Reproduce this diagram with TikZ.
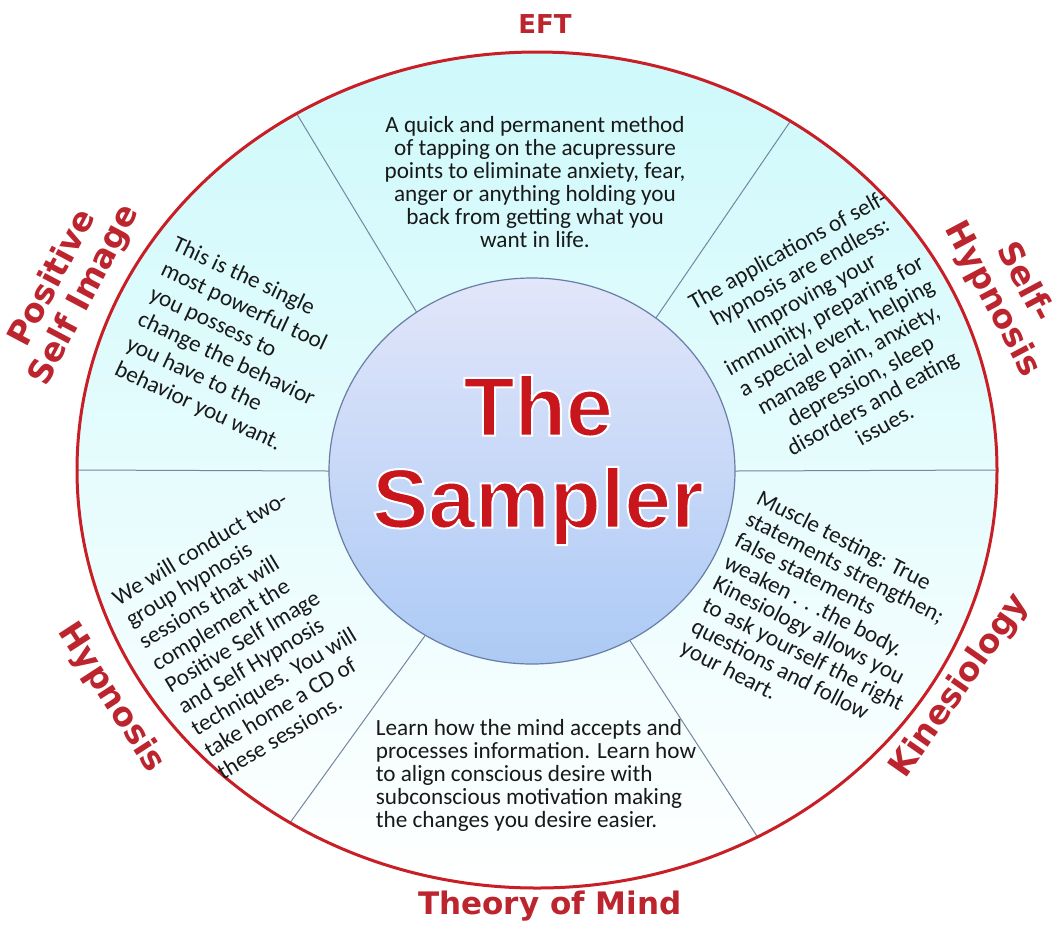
\documentclass[tikz,border=0pt]{standalone}
\usepackage{fontspec}
\setmainfont{Carlito}
\newfontfamily\headfont{DejaVu Sans}
\newfontfamily\titlefont{Liberation Sans}
\usetikzlibrary{shapes.geometric}

\definecolor{rimred}{RGB}{200,30,38}
\definecolor{labelred}{RGB}{188,36,46}
\definecolor{titlered}{RGB}{200,22,28}
\definecolor{ink}{RGB}{25,25,25}
\definecolor{spoke}{RGB}{115,135,160}
\definecolor{hubedge}{RGB}{105,125,165}
\definecolor{ringtop}{RGB}{206,249,251}
\definecolor{ringmid}{RGB}{230,252,253}
\definecolor{hubtop}{RGB}{226,230,250}
\definecolor{hubbottom}{RGB}{172,202,245}

% white rim round the big title letters
\newcommand{\whiteedge}{\special{pdf:literal direct 1 1 1 RG 2 Tr 1 w}}
\newcommand{\plainedge}{\special{pdf:literal direct 0 Tr}}

\begin{document}
\begin{tikzpicture}[x=0.5pt, y=-0.5pt]
  \useasboundingbox (0,0) rectangle (1064,928);
  \tikzset{
    blurb/.style={font=\fontsize{11.6}{#1}\selectfont, text=ink},
    blurb/.default=11.5,
    heading/.style={font=\headfont\bfseries\fontsize{#1}{18}\selectfont, text=labelred, align=center},
    heading/.default=16.5,
  }

  % Ring and hub
  \node[ellipse, minimum width=460pt, minimum height=418pt, inner sep=0pt, outer sep=0pt,
        top color=ringtop, bottom color=white, middle color=ringmid] (rim) at (537,470) {};
  \node[ellipse, minimum width=203pt, minimum height=193pt, inner sep=0pt, outer sep=0pt,
        draw=hubedge, line width=0.6pt, top color=hubtop, bottom color=hubbottom] (hub) at (532,471) {};

  % Spokes
  \foreach \a/\b in {124/126, 54/51, 235/237, 301/300, 180/180, 0/0}
    \draw[spoke, line width=0.5pt] (hub.\b) -- (rim.\a);
  \draw[rimred, line width=1.5pt] (rim.center) ellipse [x radius=460, y radius=418];

  % Title
  \node[font=\titlefont\bfseries\fontsize{42}{46}\selectfont, text=titlered, align=center]
    (sampler) at (538,460) {\whiteedge The\\Sampler\plainedge};

  % Labels
  \node[heading=13] (eft-label) at (545,24) {EFT};
  \node[heading, rotate=-62] (selfhyp-label) at (1008,291) {Self-\\Hypnosis};
  \node[heading, rotate=55] (kin-label) at (960,686) {Kinesiology};
  \node[heading=15.5] (mind-label) at (550,906) {Theory of Mind};
  \node[heading, rotate=-57] (hyp-label) at (111,698) {Hypnosis};
  \node[heading, rotate=62] (image-label) at (69,287) {Positive\\Self Image};

  % Texts
  \node[blurb, align=center] (eft-text) at (535,182)
    {A quick and permanent method\\of tapping on the acupressure\\points to eliminate anxiety, fear,\\anger or anything holding you\\back from getting what you\\want in life.};
  \node[blurb=12.5, align=center, rotate=29] (selfhyp-text) at (836,337)
    {The applications of self-\\hypnosis are endless:\\Improving your\\immunity, preparing for\\a special event, helping\\manage pain, anxiety,\\depression, sleep\\disorders and eating\\issues.};
  \node[blurb=12, align=left, rotate=-27] (kin-text) at (819,623)
    {Muscle testing: True\\statements strengthen;\\false statements\\weaken . . .the body.\\Kinesiology allows you\\to ask yourself the right\\questions and follow\\your heart.};
  \node[blurb, align=left] (mind-text) at (536,775)
    {Learn how the mind accepts and\\processes information. Learn how\\to align conscious desire with\\subconscious motivation making\\the changes you desire easier.};
  \node[blurb=12.7, align=left, rotate=31] (hyp-text) at (252,635)
    {We will conduct two-\\group hypnosis\\sessions that will\\complement the\\Positive Self Image\\and Self Hypnosis\\techniques. You will\\take home a CD of\\these sessions.};
  \node[blurb=13.7, align=left, rotate=-25] (image-text) at (232,347)
    {This is the single\\most powerful tool\\you possess to\\change the behavior\\you have to the\\behavior you want.};
\end{tikzpicture}
\end{document}
